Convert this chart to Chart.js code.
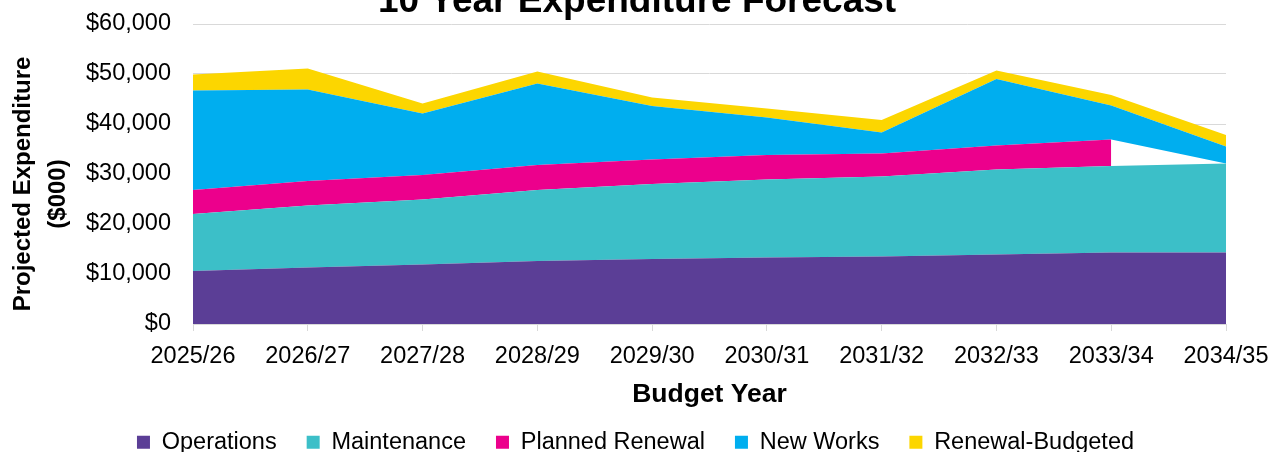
<!DOCTYPE html>
<html>
<head>
<meta charset="utf-8">
<script src="https://cdn.jsdelivr.net/npm/chart.js@4"></script>
<style>
  html, body { margin: 0; padding: 0; background: #fff; }
  #wrap { width: 1271px; height: 452px; position: relative; }
</style>
</head>
<body>
<div id="wrap"><canvas id="forecast"></canvas></div>
<script>
const years = ['2025/26', '2026/27', '2027/28', '2028/29', '2029/30',
  '2030/31', '2031/32', '2032/33', '2033/34', '2034/35'];

// $000 per year
const operations = [10600, 11300, 11900, 12600, 13000, 13300, 13500, 13900, 14300, 14300];
const maintenance = [11400, 12400, 13000, 14200, 15000, 15600, 16000, 17000, 17300, 17800];
const plannedRenewal = [4800, 4900, 4900, 5000, 4900, 4900, 4600, 4800, 5300, null];
const newWorks = [19900, 18300, 12300, 16300, 10700, 7500, 4200, 13300, 6800, 3400];
const renewalBudgeted = [3200, 4200, 2000, 2400, 1700, 1800, 2500, 1700, 2100, 2300];

const yTicks = [0, 10000, 20000, 30000, 40000, 50000, 60000];

const FONT = "'Liberation Sans', Arial, sans-serif";
const TITLE = '10 Year Expenditure Forecast';

function area(label, data, color, fill) {
  return {
    label: label,
    data: data,
    backgroundColor: color,
    borderColor: 'rgba(0,0,0,0)',
    borderWidth: 0,
    pointRadius: 0,
    pointHoverRadius: 0,
    tension: 0,
    fill: fill
  };
}

// zero-height spacer so New Works sits on top of Planned Renewal
// even in the year it has no value
const spacer = area('', years.map(() => 0), 'rgba(0,0,0,0)', false);

// title sits right at the top edge, partly above the canvas
const topTitle = {
  id: 'topTitle',
  afterDraw(chart) {
    const c = chart.ctx;
    c.save();
    c.font = 'bold 37px ' + FONT;
    c.fillStyle = '#000';
    c.textAlign = 'center';
    c.textBaseline = 'alphabetic';
    c.fillText(TITLE, 637, 12);
    c.restore();
  }
};

const ctx = document.getElementById('forecast').getContext('2d');
new Chart(ctx, {
  type: 'line',
  data: {
    labels: years,
    datasets: [
      area('Operations', operations, '#5B3E96', 'origin'),
      area('Maintenance', maintenance, '#3CBFC8', '-1'),
      area('Planned Renewal', plannedRenewal, '#EC008C', '-1'),
      spacer,
      area('New Works', newWorks, '#00AEEF', '-1'),
      area('Renewal-Budgeted', renewalBudgeted, '#FCD600', '-1')
    ]
  },
  plugins: [topTitle],
  options: {
    responsive: true,
    maintainAspectRatio: false,
    animation: false,
    layout: { padding: { left: 0, right: 0, top: 0, bottom: -12 } },
    plugins: {
      tooltip: { enabled: false },
      title: { display: false },
      legend: {
        position: 'bottom',
        labels: {
          filter: item => item.text !== '',
          color: '#000',
          font: { family: FONT, size: 23.5 },
          boxWidth: 13,
          boxHeight: 13,
          padding: 30
        }
      }
    },
    scales: {
      x: {
        afterFit: scale => {
          scale.height = 76.5;
          scale.paddingRight = 45;
        },
        grid: {
          drawOnChartArea: false,
          drawTicks: true,
          tickLength: 7,
          color: '#D9D9D9'
        },
        border: { color: '#D9D9D9' },
        ticks: {
          color: '#000',
          font: { family: FONT, size: 23.5 },
          padding: 11,
          maxRotation: 0,
          autoSkip: false
        },
        title: {
          display: true,
          text: 'Budget Year',
          color: '#000',
          font: { family: FONT, size: 26.5, weight: 'bold', lineHeight: 1 },
          padding: { top: 10, bottom: -7 }
        }
      },
      y: {
        stacked: true,
        min: yTicks[0],
        max: yTicks[yTicks.length - 1],
        afterBuildTicks: scale => {
          scale.ticks = yTicks.map(v => ({ value: v }));
        },
        afterFit: scale => {
          scale.width = 193;
          scale.paddingTop = 24;
        },
        grid: { color: '#D9D9D9', drawTicks: false },
        border: { display: false },
        ticks: {
          color: '#000',
          font: { family: FONT, size: 23.5 },
          padding: 22,
          callback: v => '$' + v.toLocaleString('en-US')
        },
        title: {
          display: true,
          text: ['Projected Expenditure   ', '($000)      '],
          color: '#000',
          font: { family: FONT, size: 24, weight: 'bold', lineHeight: 1.45 },
          padding: { top: 6, bottom: 0 }
        }
      }
    }
  }
});
</script>
</body>
</html>
